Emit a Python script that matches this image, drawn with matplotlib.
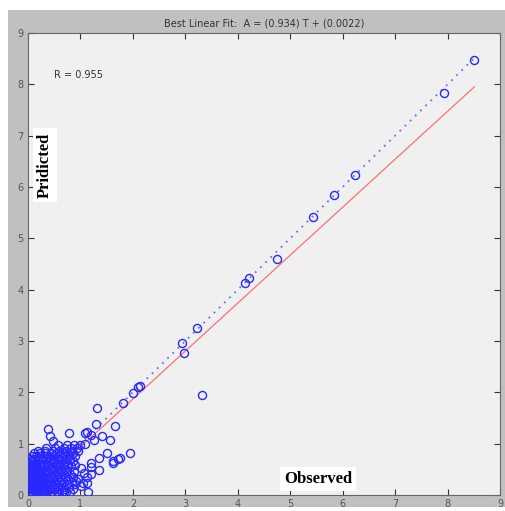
import matplotlib.pyplot as plt
from matplotlib.patches import Rectangle

# puntos dispersos (observado, predicho)
obs_sparse = [8.51, 7.94, 6.24, 5.83, 5.43, 4.75, 4.13, 4.22, 3.23, 2.94, 2.98, 3.31,
              2.14, 2.10, 2.00, 1.82, 1.32, 1.66, 1.30, 0.39, 0.41, 0.47, 0.79, 1.13,
              1.21, 1.41, 1.56, 1.95, 1.72, 1.63, 1.50, 1.36, 1.36, 1.21, 1.13, 1.15,
              1.02, 0.80, 0.68, 0.92, 1.06, 1.21, 1.09, 1.25, 1.09, 1.76, 1.62, 1.20,
              1.12, 1.04, 1.01, 0.90]
pred_sparse = [8.48, 7.84, 6.24, 5.85, 5.41, 4.59, 4.13, 4.22, 3.25, 2.97, 2.77, 1.95,
               2.12, 2.10, 1.98, 1.80, 1.69, 1.35, 1.38, 1.28, 1.14, 1.05, 1.20, 1.23,
               1.17, 1.15, 1.07, 0.81, 0.70, 0.66, 0.81, 0.73, 0.49, 0.40, 0.24, 0.05,
               0.18, 0.05, 0.05, 0.27, 0.42, 0.55, 1.21, 1.08, 1.00, 0.72, 0.63, 0.63,
               0.36, 0.24, 0.52, 0.58]

# nube densa cerca del origen: nivel predicho -> valores observados
cluster_rows = [
    (0.02, [0.02, 0.06, 0.10, 0.15, 0.20, 0.26, 0.33, 0.42, 0.50, 0.58]),
    (0.06, [0.03, 0.08, 0.13, 0.18, 0.24, 0.30, 0.37, 0.46, 0.55, 0.64, 0.73]),
    (0.11, [0.01, 0.05, 0.11, 0.16, 0.21, 0.28, 0.35, 0.41, 0.49, 0.60, 0.70, 0.85]),
    (0.16, [0.04, 0.09, 0.14, 0.19, 0.25, 0.31, 0.39, 0.47, 0.56, 0.66, 0.78]),
    (0.21, [0.02, 0.07, 0.12, 0.17, 0.23, 0.29, 0.36, 0.44, 0.52, 0.62, 0.74, 0.90]),
    (0.26, [0.05, 0.10, 0.15, 0.20, 0.27, 0.33, 0.40, 0.50, 0.59, 0.69, 0.83]),
    (0.31, [0.01, 0.06, 0.12, 0.18, 0.24, 0.30, 0.38, 0.46, 0.55, 0.65, 0.77, 0.95]),
    (0.36, [0.04, 0.09, 0.14, 0.21, 0.28, 0.35, 0.43, 0.52, 0.61, 0.72, 0.86]),
    (0.41, [0.02, 0.07, 0.13, 0.19, 0.25, 0.32, 0.40, 0.49, 0.58, 0.68, 0.80]),
    (0.46, [0.05, 0.10, 0.16, 0.22, 0.30, 0.37, 0.45, 0.55, 0.64, 0.75, 0.88]),
    (0.51, [0.03, 0.08, 0.14, 0.20, 0.27, 0.34, 0.43, 0.52, 0.62, 0.72]),
    (0.56, [0.06, 0.11, 0.17, 0.24, 0.31, 0.39, 0.48, 0.58, 0.68, 0.82]),
    (0.61, [0.02, 0.09, 0.15, 0.22, 0.29, 0.37, 0.46, 0.56, 0.66, 0.77]),
    (0.66, [0.05, 0.12, 0.19, 0.26, 0.34, 0.42, 0.52, 0.62, 0.73, 0.86]),
    (0.71, [0.03, 0.10, 0.18, 0.25, 0.33, 0.41, 0.50, 0.60, 0.70, 0.80]),
    (0.76, [0.08, 0.15, 0.23, 0.31, 0.40, 0.50, 0.59, 0.68, 0.78, 0.90]),
    (0.81, [0.12, 0.22, 0.32, 0.44, 0.55, 0.66, 0.76, 0.86]),
    (0.86, [0.20, 0.33, 0.47, 0.60, 0.72, 0.84, 0.96]),
    (0.92, [0.35, 0.52, 0.68, 0.82, 0.93]),
    (0.98, [0.58, 0.75, 0.88, 1.00]),
]

pendiente = 0.934
intercepto = 0.0022
R = 0.955

obs = list(obs_sparse)
pred = list(pred_sparse)
for nivel, xs in cluster_rows:
    for xv in xs:
        obs.append(xv)
        pred.append(nivel)

fig = plt.figure(figsize=(5.05, 5.11), dpi=100)
fig.patch.set_facecolor('white')
# fondo gris tipo MATLAB
fig.add_artist(Rectangle((8/505, 4/511), 1 - 8/505, (507-10)/511,
                         transform=fig.transFigure, facecolor='#c0c0c0',
                         edgecolor='none', zorder=-1))

ax = fig.add_axes([28/505, 16/511, 472/505, 462/511])
ax.set_zorder(1)
ax.set_facecolor('#f0f0f0')

tmin, tmax = min(obs), max(obs)
ax.plot([0, tmax], [0, tmax], color='#6a6aff', lw=1.3, ls=(0, (1, 3)), zorder=2)
ax.plot([tmin, tmax], [pendiente*tmin + intercepto, pendiente*tmax + intercepto],
        '-', color='#ff7070', lw=0.9, zorder=3)
ax.plot(obs, pred, 'o', mfc='none', mec='#2828ff', ms=5.8, mew=1.0, zorder=4)

ax.set_xlim(0, 9)
ax.set_ylim(0, 9)
ax.set_xticks(range(10))
ax.set_yticks(range(10))
ax.tick_params(direction='in', length=4, width=0.8, top=True, right=True,
               labelsize=7, labelcolor='#555555', color='#333333', pad=3)
for s in ax.spines.values():
    s.set_color('#666666')
    s.set_linewidth(0.8)

ax.set_title('Best Linear Fit:  A = (%.3f) T + (%.4f)' % (pendiente, intercepto),
             fontsize=7, color='#333333', pad=5)
ax.text(0.5, 8.18, 'R = %.3f' % R, fontsize=7, color='#333333', va='center')

caja = dict(facecolor='white', edgecolor='none', pad=3)
ax.text(0.32, 6.43, 'Pridicted', rotation=90, family='Liberation Serif',
        fontweight='bold', fontsize=12, ha='center', va='center', bbox=caja, zorder=6)
ax.text(5.53, 0.31, 'Observed', family='Liberation Serif',
        fontweight='bold', fontsize=12, ha='center', va='center', bbox=caja, zorder=6)

fig.savefig('out.png', dpi=100)
